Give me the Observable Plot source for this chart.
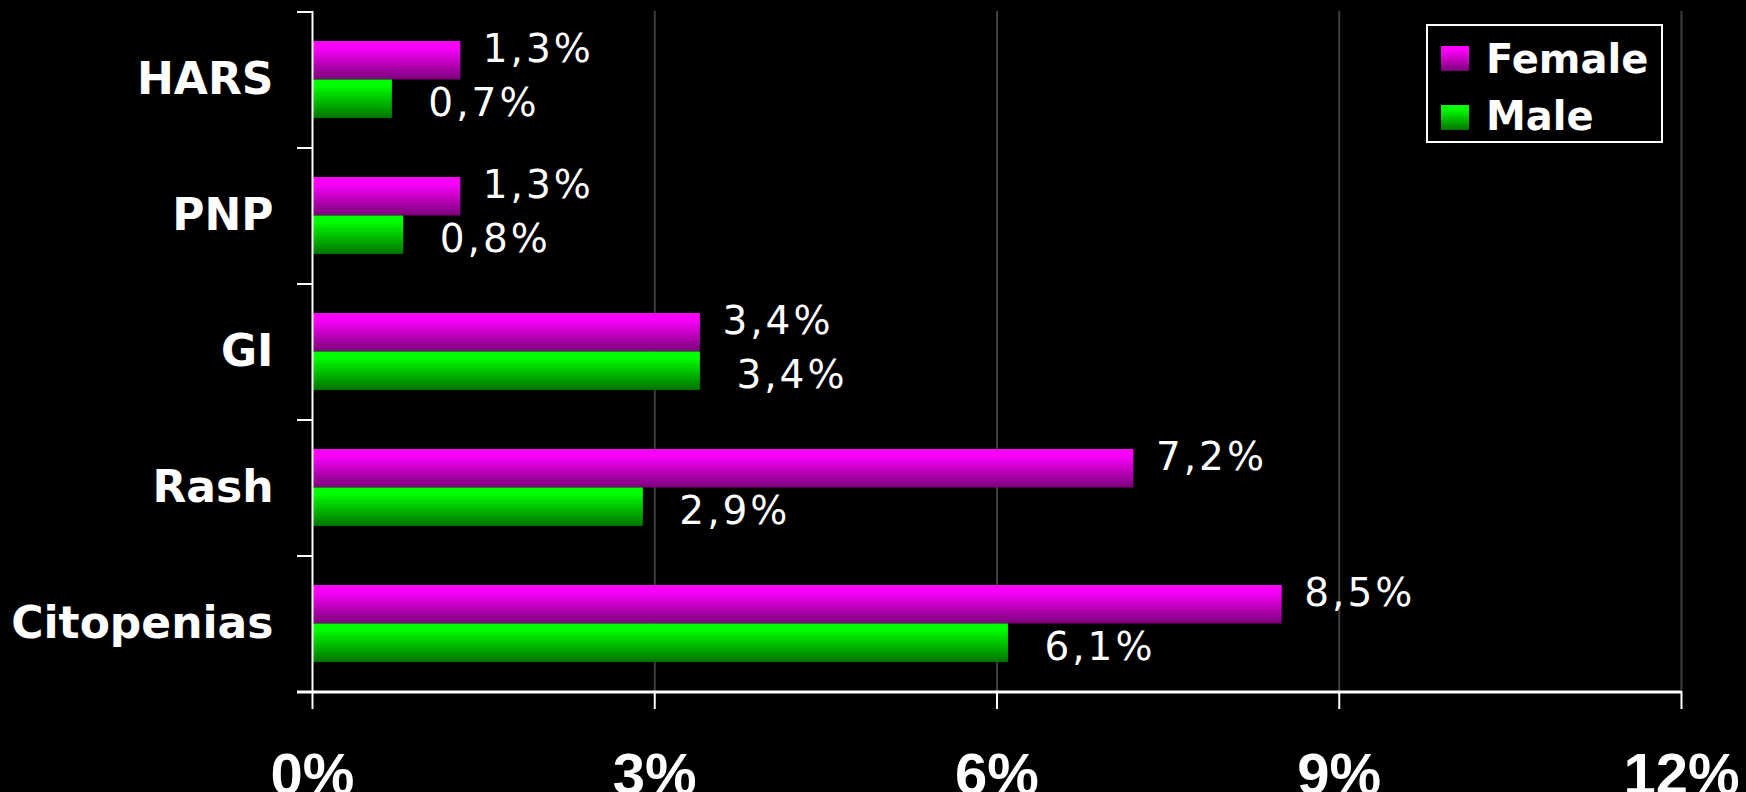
<!DOCTYPE html>
<html>
<head>
<meta charset="utf-8">
<script src="https://cdn.jsdelivr.net/npm/d3@7"></script>
<script src="https://cdn.jsdelivr.net/npm/@observablehq/plot@0.6"></script>
<style>
  html, body { margin: 0; padding: 0; background: #000; overflow: hidden; }
  #chart { position: relative; width: 1746px; height: 792px; background: #000; }
  #chart svg g[aria-label="text"] text { letter-spacing: 3px; }
  .legend-box { position: absolute; left: 1426px; top: 24px; width: 237px; height: 119px;
    box-sizing: border-box; border: 2px solid #fff; }
  .sw { position: absolute; left: 1441px; width: 28px; height: 25px; }
  .sw.f { top: 46px; background: linear-gradient(to bottom, #ff00ff 0%, #ff00ff 15%, #7a0078 100%); }
  .sw.m { top: 105px; background: linear-gradient(to bottom, #00ff00 0%, #00ff00 15%, #007400 100%); }
  .lt { position: absolute; left: 1486px; font: bold 40px "DejaVu Sans", sans-serif; line-height: 40px;
    color: #fff; white-space: nowrap; }
</style>
</head>
<body>
<div id="chart"></div>
<script>
// ---- data ----
const categories = ["HARS", "PNP", "GI", "Rash", "Citopenias"];
const series = ["Female", "Male"];
const femaleValues = [1.3, 1.3, 3.4, 7.2, 8.5];
const maleValues = [0.7, 0.8, 3.4, 2.9, 6.1];
const xTicks = [0, 3, 6, 9, 12];

// ---- layout ----
const W = 1746, H = 792;
const mt = 11, mb = 101, ml = 312, mr = 65;
const padIn = 0.434, padOut = padIn / 2;
const step = (H - mt - mb) / categories.length;
const bw = step * (1 - padIn);

const fmt = v => d3.format(".1f")(v).replace(".", ",") + "%";
const femaleRows = categories.map((c, i) => ({category: c, sex: series[0], value: femaleValues[i]}));
const maleRows = categories.map((c, i) => ({category: c, sex: series[1], value: maleValues[i]}));

const plot = Plot.plot({
  width: W, height: H,
  marginTop: mt, marginBottom: mb, marginLeft: ml, marginRight: mr,
  style: {background: "#000", color: "#fff", overflow: "visible"},
  x: {domain: [xTicks[0], xTicks[xTicks.length - 1]]},
  y: {domain: categories, paddingInner: padIn, paddingOuter: padOut},
  marks: [
    Plot.ruleX(xTicks.slice(1), {stroke: "#3e3e3e", strokeWidth: 2}),
    Plot.barX(femaleRows, {x: "value", y: "category", fill: "url(#gradFemale)", insetBottom: bw / 2}),
    Plot.barX(maleRows, {x: "value", y: "category", fill: "url(#gradMale)", insetTop: bw / 2}),
    Plot.text(femaleRows, {x: "value", y: "category", text: d => fmt(d.value), textAnchor: "start",
      dx: 22, dy: -30, fill: "#fff", fontSize: 39, fontFamily: "DejaVu Sans"}),
    Plot.text(maleRows, {x: "value", y: "category", text: d => fmt(d.value), textAnchor: "start",
      dx: 36, dy: 24, fill: "#fff", fontSize: 39, fontFamily: "DejaVu Sans"}),
    Plot.axisY({tickSize: 0, tickPadding: 39, fontSize: 44, fontWeight: "bold",
      fontFamily: "DejaVu Sans", label: null}),
    Plot.axisX({ticks: xTicks, tickFormat: d => d + "%", tickSize: 18, tickPadding: 43,
      strokeWidth: 2, fontSize: 58, fontWeight: "bold", fontFamily: "Liberation Sans", label: null}),
    // category boundary ticks on the left axis
    Plot.ruleY(categories, {y: d => d, x1: 0, x2: 0, insetLeft: -15, dy: -step / 2,
      stroke: "#fff", strokeWidth: 2}),
    // bottom axis line
    Plot.ruleY(categories.slice(-1), {y: d => d, x1: xTicks[0], x2: xTicks[xTicks.length - 1],
      insetLeft: -15, dy: step / 2, stroke: "#fff", strokeWidth: 3}),
    // left axis line
    Plot.ruleX([0], {stroke: "#fff", strokeWidth: 2})
  ]
});

const ns = "http://www.w3.org/2000/svg";
const defs = document.createElementNS(ns, "defs");
defs.innerHTML =
  '<linearGradient id="gradFemale" x1="0" y1="0" x2="0" y2="1">' +
  '<stop offset="0" stop-color="#ff00ff"/><stop offset="0.15" stop-color="#ff00ff"/>' +
  '<stop offset="1" stop-color="#7a0078"/></linearGradient>' +
  '<linearGradient id="gradMale" x1="0" y1="0" x2="0" y2="1">' +
  '<stop offset="0" stop-color="#00ff00"/><stop offset="0.15" stop-color="#00ff00"/>' +
  '<stop offset="1" stop-color="#007400"/></linearGradient>';
plot.insertBefore(defs, plot.firstChild);

const chart = document.getElementById("chart");
chart.appendChild(plot);

// legend
const box = document.createElement("div");
box.className = "legend-box";
chart.appendChild(box);
series.forEach((s, i) => {
  const sw = document.createElement("div");
  sw.className = "sw " + (i === 0 ? "f" : "m");
  chart.appendChild(sw);
  const t = document.createElement("div");
  t.className = "lt";
  t.style.top = (i === 0 ? 39 : 96) + "px";
  t.textContent = s;
  chart.appendChild(t);
});
</script>
</body>
</html>
